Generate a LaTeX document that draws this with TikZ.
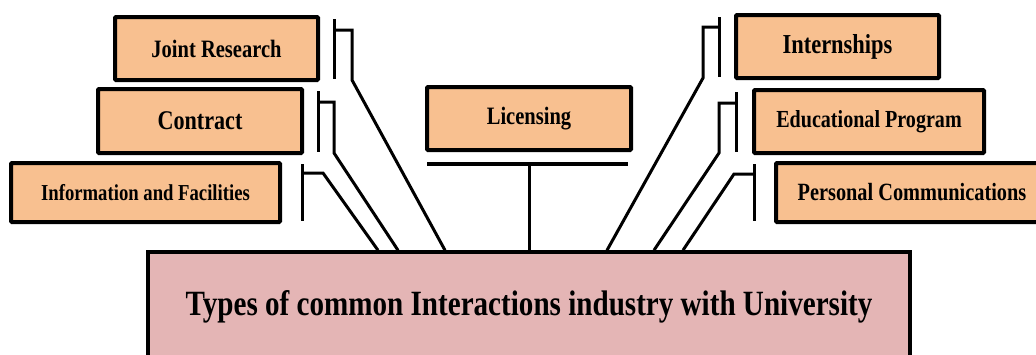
\documentclass[tikz,border=0pt]{standalone}
\usepackage{fontspec}
\setmainfont{Liberation Serif}[FakeStretch=0.82]
\usetikzlibrary{calc}
\definecolor{peach}{HTML}{F8C090}
\definecolor{rose}{HTML}{E4B5B5}
\tikzset{
  typebox/.style={draw=black, line width=4pt, fill=peach, rounded corners=1pt,
    inner sep=0pt, font=\bfseries},
  hubbox/.style={draw=black, line width=3.5pt, fill=rose, inner sep=0pt, font=\bfseries},
  link/.style={line width=3pt, line join=miter},
  barline/.style={line width=3pt, line cap=butt},
}
\newcommand{\fsz}[1]{\fontsize{#1}{#1}\selectfont}
\begin{document}
\begin{tikzpicture}[x=1pt, y=-1pt]
\useasboundingbox (0,0) rectangle (1036,354);

% hub box (runs past the lower edge)
\node[hubbox, minimum width=762pt, minimum height=110pt] (hub) at (529,307)
  {\raisebox{3pt}{\fsz{35.5}Types of common Interactions industry with University}};

% interaction types, left column
\node[typebox, minimum width=203pt, minimum height=63pt] (jr)  at (216.5,48.5) {\fsz{25}Joint Research};
\node[typebox, minimum width=204pt, minimum height=64pt] (ct)  at (200,121)    {\fsz{27}Contract};
\node[typebox, minimum width=269pt, minimum height=59pt] (inf) at (145.5,192.5){\fsz{22.8}Information and Facilities};

% centre
\node[typebox, minimum width=204pt, minimum height=63pt] (lic) at (529,118.5)  {\fsz{25}Licensing};

% interaction types, right column
\node[typebox, minimum width=203pt, minimum height=63pt] (int) at (837.5,46.5) {\fsz{27.4}Internships};
\node[typebox, minimum width=230pt, minimum height=63pt] (edu) at (869,121.5)  {\fsz{24.5}Educational Program};
\node[typebox, minimum width=272pt, minimum height=59pt] (pc)  at (912,192.5)  {\fsz{24.8}Personal Communications};

% bracket bars beside each box
\coordinate (jrT) at (334,19);   \coordinate (jrB) at (334,79);
\coordinate (ctT) at (318,91);   \coordinate (ctB) at (318,152);
\coordinate (infT) at (302,164); \coordinate (infB) at (302,221);
\coordinate (intT) at (719,17);  \coordinate (intB) at (719,77);
\coordinate (eduT) at (736,92);  \coordinate (eduB) at (736,152);
\coordinate (pcT) at (754,164);  \coordinate (pcB) at (754,221);
\foreach \b in {jr,ct,inf,int,edu,pc}
  \draw[barline] (\b T) -- (\b B);

% connectors from the bars down to the hub
\draw[link] ($(jrT)+(0,11)$) -- (352,30) -- (352,80) -- (hub.north -| 445,0);
\draw[link] ($(ctT)+(0,11)$) -- (334,102) -- (334,153) -- (hub.north -| 398,0);
\draw[link] ($(infT)+(0,9)$) -- (323,173) -- (hub.north -| 378,0);
\draw[link] ($(intT)+(0,10)$) -- (703,27) -- (703,78) -- (hub.north -| 607,0);
\draw[link] ($(eduT)+(0,11)$) -- (719,103) -- (719,153) -- (hub.north -| 654,0);
\draw[link] ($(pcT)+(0,10)$) -- (734,174) -- (hub.north -| 683,0);

% licensing: bar under the box and a stem to the hub
\coordinate (licL) at (427,164);
\coordinate (licR) at (628,164);
\draw[line width=4pt] (licL) -- (licR);
\draw[link] (licL -| lic.center) -- (hub.north -| lic.center);
\end{tikzpicture}
\end{document}
